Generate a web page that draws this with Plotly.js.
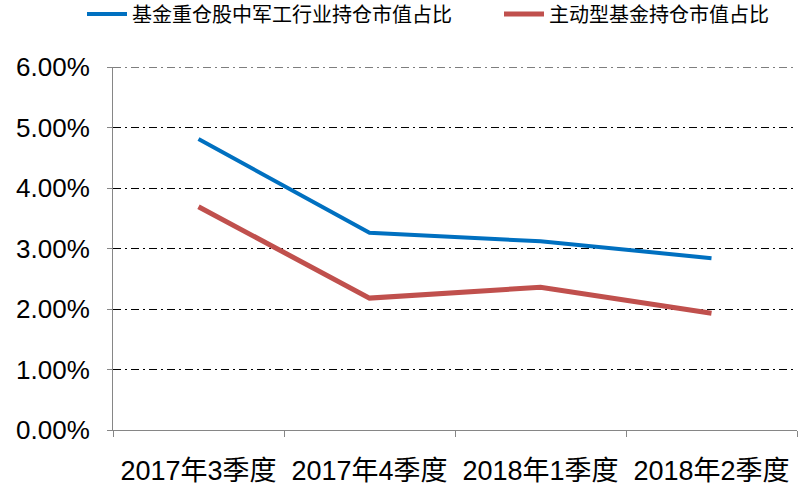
<!DOCTYPE html>
<html>
<head>
<meta charset="utf-8">
<script src="https://cdn.plot.ly/plotly-3.0.1.min.js"></script>
<style>html,body{margin:0;padding:0;background:#fff;}#chart{width:799px;height:489px;}</style>
</head>
<body>
<div id="chart"></div>
<script>
const categories = ["2017年3季度", "2017年4季度", "2018年1季度", "2018年2季度"];
const seriesNames = ["基金重仓股中军工行业持仓市值占比", "主动型基金持仓市值占比"];
const militaryShare = [0.0481, 0.0326, 0.0312, 0.0284];
const activeFundShare = [0.0369, 0.0218, 0.0236, 0.0193];
const yTickVals = [0, 0.01, 0.02, 0.03, 0.04, 0.05, 0.06];
const yTickText = ["0.00%", "1.00%", "2.00%", "3.00%", "4.00%", "5.00%", "6.00%"];
const yMax = 0.06;

const fontFamily = '"Liberation Sans", Arial, "Noto Sans CJK SC", sans-serif';
const gridDash = "8px,4px,2px,4px";

const traces = [
  {
    x: categories, y: militaryShare, name: seriesNames[0],
    type: "scatter", mode: "lines", legend: "legend",
    line: {color: "#0070C0", width: 4}
  },
  {
    x: categories, y: activeFundShare, name: seriesNames[1],
    type: "scatter", mode: "lines", legend: "legend2",
    line: {color: "#C0504D", width: 5}
  }
];

function legendAt(leftPx) {
  return {
    orientation: "h", x: leftPx / 799, xref: "container", xanchor: "left",
    y: 1 - 14 / 489, yref: "container", yanchor: "middle",
    font: {family: '"Noto Sans CJK SC", sans-serif', size: 20, color: "#000"},
    itemwidth: 40, tracegroupgap: 0,
    bgcolor: "rgba(0,0,0,0)"
  };
}

const layout = {
  width: 799, height: 489,
  margin: {l: 113, r: 2, t: 67, b: 59, pad: 0, autoexpand: false},
  paper_bgcolor: "#ffffff", plot_bgcolor: "#ffffff",
  font: {family: fontFamily, color: "#000000"},
  showlegend: true,
  legend: legendAt(82),
  legend2: legendAt(499),
  xaxis: {
    type: "category", range: [-0.5, 3.5], fixedrange: true,
    tickson: "boundaries", ticks: "outside", ticklen: 6, tickcolor: "#868686", tickwidth: 1,
    showline: true, linecolor: "#868686", linewidth: 1,
    showgrid: false, zeroline: false,
    tickfont: {family: fontFamily, size: 27, color: "#000"},
    ticklabelstandoff: 17
  },
  yaxis: {
    range: [0, yMax], fixedrange: true,
    tickvals: yTickVals, ticktext: yTickText,
    ticks: "outside", ticklen: 5, tickcolor: "#868686", tickwidth: 1,
    showline: true, linecolor: "#868686", linewidth: 1,
    showgrid: true, gridcolor: "#000000", gridwidth: 1, griddash: gridDash,
    zeroline: false,
    tickfont: {family: fontFamily, size: 26, color: "#000"},
    ticklabelstandoff: 12
  },
  shapes: [
    {type: "line", xref: "paper", x0: 0, x1: 1, yref: "y", y0: yMax, y1: yMax,
     line: {color: "#000000", width: 1, dash: gridDash}, layer: "below"}
  ]
};

Plotly.newPlot("chart", traces, layout, {displayModeBar: false, staticPlot: true});
</script>
</body>
</html>
